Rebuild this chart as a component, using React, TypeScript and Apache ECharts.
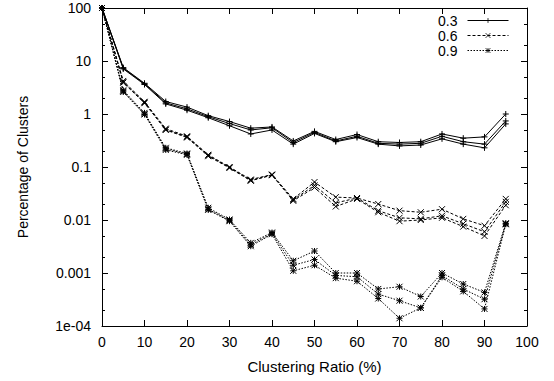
import React, { useEffect, useRef } from 'react';
import * as echarts from 'echarts';

const xValues = [0, 5, 10, 15, 20, 25, 30, 35, 40, 45, 50, 55, 60, 65, 70, 75, 80, 85, 90, 95];

const s03a = [100, 7.5, 3.8, 1.72, 1.35, 0.93, 0.72, 0.54, 0.57, 0.31, 0.47, 0.33, 0.41, 0.30, 0.29, 0.30, 0.42, 0.35, 0.37, 1.0];
const s03b = [100, 7.3, 3.7, 1.62, 1.25, 0.89, 0.66, 0.5, 0.55, 0.29, 0.45, 0.31, 0.38, 0.28, 0.27, 0.28, 0.38, 0.3, 0.27, 0.74];
const s03c = [100, 7.1, 3.6, 1.55, 1.18, 0.85, 0.6, 0.42, 0.5, 0.27, 0.43, 0.3, 0.36, 0.27, 0.25, 0.26, 0.34, 0.27, 0.23, 0.65];

const s06a = [100, 4.2, 1.7, 0.53, 0.38, 0.17, 0.1, 0.058, 0.072, 0.025, 0.052, 0.027, 0.026, 0.02, 0.015, 0.014, 0.016, 0.0105, 0.0078, 0.025];
const s06b = [100, 4.0, 1.65, 0.51, 0.37, 0.165, 0.098, 0.056, 0.071, 0.024, 0.045, 0.021, 0.026, 0.015, 0.011, 0.0105, 0.012, 0.0085, 0.006, 0.022];
const s06c = [100, 3.9, 1.6, 0.5, 0.36, 0.16, 0.096, 0.055, 0.07, 0.023, 0.041, 0.018, 0.025, 0.014, 0.0095, 0.01, 0.011, 0.0075, 0.005, 0.019];

const s09a = [100, 2.8, 1.05, 0.23, 0.18, 0.017, 0.0102, 0.0037, 0.0058, 0.0017, 0.0026, 0.001, 0.001, 0.0005, 0.00055, 0.00036, 0.001, 0.00062, 0.00043, 0.0087];
const s09b = [100, 2.7, 1.0, 0.22, 0.175, 0.016, 0.0098, 0.0034, 0.0056, 0.0014, 0.0018, 0.0009, 0.00085, 0.0004, 0.0003, 0.00022, 0.0009, 0.0005, 0.00032, 0.0085];
const s09c = [100, 2.6, 0.98, 0.21, 0.17, 0.0155, 0.0095, 0.0032, 0.0054, 0.0011, 0.0014, 0.0008, 0.0007, 0.00033, 0.00014, 0.00022, 0.00083, 0.00045, 0.00021, 0.0083];

const legendNames = ['0.3', '0.6', '0.9'];
const groups = [[s03a, s03b, s03c], [s06a, s06b, s06c], [s09a, s09b, s09c]];

const yTickValues = [0.0001, 0.001, 0.01, 0.1, 1, 10, 100];
const yTickLabels = ['1e-04', '0.001', '0.01', '0.1', '1', '10', '100'];
const yMinorTickValues = [0.0002, 0.0005, 0.002, 0.005, 0.02, 0.05, 0.2, 0.5, 2, 5, 20, 50];

const FONT = 'Liberation Sans';

const symbols = [
  'path://M0,3L6,3M3,0L3,6',
  'path://M0,0L6,6M6,0L0,6',
  'path://M0,0L6,6M6,0L0,6M3,0L3,6M0,3L6,3',
];
const dashes: any[] = ['solid', [3, 2], [1.5, 1.5]];

function labelFor(v: number) {
  const i = yTickValues.findIndex((t) => Math.abs(Math.log10(t) - Math.log10(v)) < 1e-6);
  return i >= 0 ? yTickLabels[i] : '';
}

export default function App() {
  const ref = useRef<HTMLDivElement>(null);
  useEffect(() => {
    if (!ref.current) return;
    const chart = echarts.init(ref.current, null, { renderer: 'svg' });
    const series: any[] = [];
    groups.forEach((g, gi) => {
      g.forEach((arr) => {
        series.push({
          type: 'line',
          name: legendNames[gi],
          xAxisIndex: 0,
          yAxisIndex: 0,
          data: xValues.map((x, i) => [x, arr[i]]),
          symbol: symbols[gi],
          symbolSize: 6,
          showSymbol: true,
          lineStyle: { color: '#000', width: 1, type: dashes[gi] },
          itemStyle: { color: '#000', borderColor: '#000', borderWidth: 1 },
          emphasis: { disabled: true },
        });
      });
    });
    const majorTick = (pos: string) => ({
      type: 'log',
      logBase: 10,
      min: 0.0001,
      max: 100,
      position: pos,
      axisLine: { show: true, onZero: false, lineStyle: { color: '#000', width: 1 } },
      axisTick: { show: true, inside: true, length: 6, customValues: yTickValues, lineStyle: { color: '#000', width: 1 } },
      splitLine: { show: false },
      minorTick: { show: false },
    });
    const minorTick = (pos: string) => ({
      type: 'log',
      logBase: 10,
      min: 0.0001,
      max: 100,
      position: pos,
      axisLine: { show: false, onZero: false },
      axisTick: { show: true, inside: true, length: 3, customValues: yMinorTickValues, lineStyle: { color: '#000', width: 1 } },
      axisLabel: { show: false },
      splitLine: { show: false },
    });
    const option: any = {
      animation: false,
      backgroundColor: '#fff',
      textStyle: { fontFamily: FONT, color: '#000' },
      grid: { left: 102, right: 27, top: 8, bottom: 55, containLabel: false },
      legend: {
        data: legendNames,
        orient: 'vertical',
        right: 40,
        top: 8,
        align: 'right',
        itemWidth: 41,
        itemHeight: 6,
        itemGap: 0,
        selectedMode: false,
        lineStyle: { width: 1 },
        itemStyle: { borderWidth: 0.8 },
        textStyle: { fontFamily: FONT, fontSize: 14, lineHeight: 15, color: '#000', padding: [0, 5, 0, 0] },
      },
      xAxis: [
        {
          type: 'value',
          min: 0,
          max: 100,
          interval: 10,
          position: 'bottom',
          name: 'Clustering Ratio (%)',
          nameLocation: 'middle',
          nameGap: 33,
          nameTextStyle: { fontFamily: FONT, fontSize: 15, color: '#000' },
          axisLine: { show: true, onZero: false, lineStyle: { color: '#000', width: 1 } },
          axisTick: { show: true, inside: true, length: 6, lineStyle: { color: '#000', width: 1 } },
          axisLabel: { fontFamily: FONT, fontSize: 14, color: '#000', margin: 9 },
          splitLine: { show: false },
        },
        {
          type: 'value',
          min: 0,
          max: 100,
          interval: 10,
          position: 'top',
          axisLine: { show: true, onZero: false, lineStyle: { color: '#000', width: 1 } },
          axisTick: { show: true, inside: true, length: 6, lineStyle: { color: '#000', width: 1 } },
          axisLabel: { show: false },
          splitLine: { show: false },
        },
      ],
      yAxis: [
        {
          ...majorTick('left'),
          name: 'Percentage of Clusters',
          nameLocation: 'middle',
          nameGap: 72,
          nameTextStyle: { fontFamily: FONT, fontSize: 14, color: '#000' },
          axisLabel: {
            show: true,
            customValues: yTickValues,
            fontFamily: FONT,
            fontSize: 14,
            color: '#000',
            margin: 11,
            formatter: (v: number) => labelFor(v),
          },
        },
        minorTick('left'),
        { ...majorTick('right'), axisLabel: { show: false } },
        minorTick('right'),
      ],
      series,
    };
    chart.setOption(option);
    return () => chart.dispose();
  }, []);
  return (
    <div
      ref={ref}
      style={{ position: 'fixed', left: 0, top: 0, width: 554, height: 381, background: '#fff' }}
    />
  );
}
